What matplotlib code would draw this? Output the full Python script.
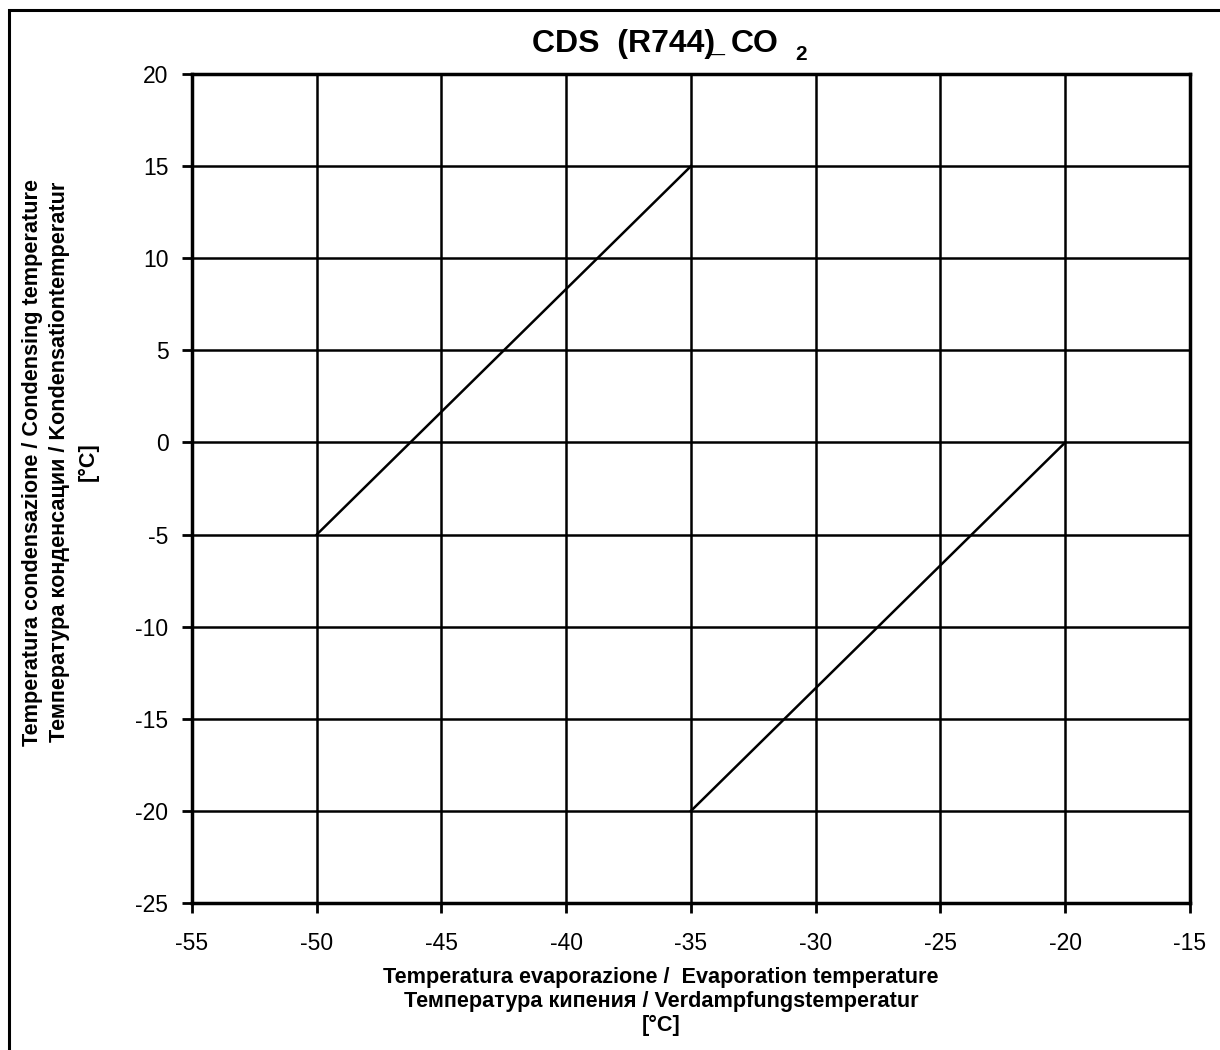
import matplotlib
matplotlib.use("Agg")
import matplotlib.pyplot as plt
from matplotlib.patches import Rectangle

plt.rcParams['font.family'] = ['Liberation Sans', 'DejaVu Sans']

# Data
upper_evap = [-50, -35]
upper_cond = [-5, 15]
lower_evap = [-35, -20]
lower_cond = [-20, 0]
x_ticks = [-55, -50, -45, -40, -35, -30, -25, -20, -15]
y_ticks = [-25, -20, -15, -10, -5, 0, 5, 10, 15, 20]

title_parts = ["CDS  (R744)", "_", "CO", "2"]
xlabel_lines = ["Temperatura evaporazione /  Evaporation temperature",
                "Температура кипения / Verdampfungstemperatur",
                "[°C]"]
ylabel_lines = ["Temperatura condensazione / Condensing temperature",
                "Температура конденсации / Kondensationtemperatur",
                "[°C]"]

W, H = 1220, 1050
fig = plt.figure(figsize=(W / 100, H / 100), dpi=100)
fig.patch.set_facecolor("white")

# outer border (extends beyond right and bottom edges)
fig.patches.append(Rectangle((9 / W, -0.05), 1.1, 1 - 9.5 / H + 0.05,
                             transform=fig.transFigure, fill=False,
                             edgecolor="black", linewidth=2.2, zorder=0))

ax = fig.add_axes([192 / W, 1 - 903 / H, (1190 - 192) / W, (903 - 74) / H])
ax.set_xlim(-55, -15)
ax.set_ylim(-25, 20)
ax.set_xticks(x_ticks)
ax.set_yticks(y_ticks)
ax.set_xticklabels([str(v) for v in x_ticks])
ax.set_yticklabels([str(v) for v in y_ticks])
ax.grid(True, color="black", linewidth=1.8)
ax.set_axisbelow(True)
for s in ax.spines.values():
    s.set_linewidth(2.5)
    s.set_color("black")
ax.tick_params(direction="out", length=7, width=2, labelsize=16.5, pad=10,
               colors="black")
ax.tick_params(axis="x", pad=14)

ax.plot(upper_evap, upper_cond, color="black", linewidth=1.8, zorder=3)
ax.plot(lower_evap, lower_cond, color="black", linewidth=1.8, zorder=3)

# title (pieces: main, underscore overlapping ")", CO, subscript 2)
tfs = 23
fig.text(532 / W, 1 - 44 / H, title_parts[0], fontsize=tfs, fontweight="bold",
         ha="left", va="center")
fig.text(706 / W, 1 - 44 / H, title_parts[1], fontsize=tfs, fontweight="bold",
         ha="left", va="center")
fig.text(731 / W, 1 - 44 / H, title_parts[2], fontsize=tfs, fontweight="bold",
         ha="left", va="center")
fig.text(795 / W, 1 - 55 / H, title_parts[3], fontsize=15, fontweight="bold",
         ha="left", va="center")

# x label
lab_fs = 15.6
for i, yy in enumerate([977, 1001, 1025]):
    fig.text(661 / W, 1 - yy / H, xlabel_lines[i], fontsize=lab_fs,
             fontweight="bold", ha="center", va="center")

# y label
for i, xx in enumerate([33, 60, 88]):
    fig.text(xx / W, 1 - 462 / H, ylabel_lines[i], fontsize=lab_fs,
             fontweight="bold", ha="center", va="center", rotation=90)

fig.savefig("out.png", dpi=100)
